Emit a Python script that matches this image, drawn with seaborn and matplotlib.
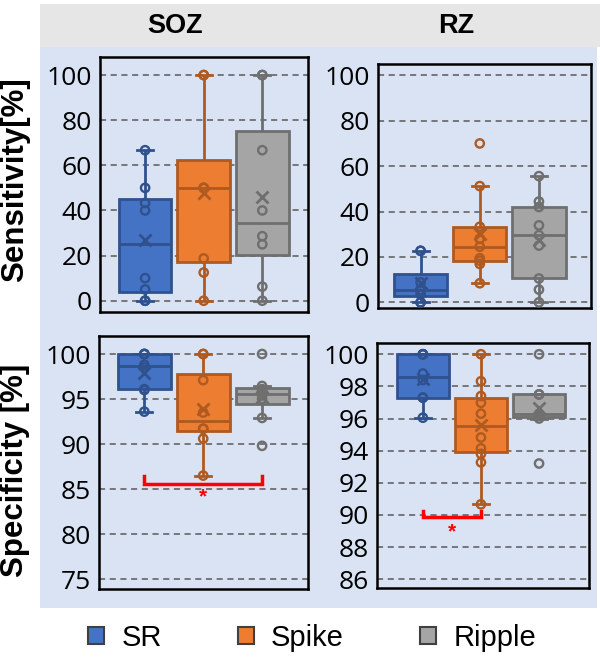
import matplotlib
matplotlib.use("Agg")
import matplotlib.pyplot as plt
from matplotlib.patches import Rectangle, Patch
import seaborn as sns

# %% Data
groups = ["SR", "Spike", "Ripple"]
fill_colors = ["#4472C4", "#ED7D31", "#A5A5A5"]
edge_colors = ["#2F528F", "#AE5A21", "#6F6F6F"]

# Sensitivity [%] - SOZ
sens_soz_sr = [0, 0, 5, 10, 40, 43.3, 50, 66.7]
sens_soz_spike = [0, 12.5, 18.75, 50, 50, 50, 100, 100]
sens_soz_ripple = [0, 6.25, 25, 28.6, 40, 66.7, 100, 100]

# Sensitivity [%] - RZ
sens_rz_sr = [0, 0, 3.7, 5.4, 5.4, 8.8, 22.7, 22.7]
sens_rz_spike = [8.4, 16.9, 18.3, 19.4, 24.5, 28, 33.3, 51.2, 70]
sens_rz_ripple = [0, 5.6, 10.5, 25, 29.6, 33.9, 42, 44.4, 55.6]

# Specificity [%] - SOZ
spec_soz_sr = [93.6, 96.0, 96.1, 98.5, 98.8, 100, 100, 100]
spec_soz_spike = [86.5, 90.6, 91.7, 91.7, 93.5, 97.1, 100, 100]
spec_soz_ripple = [89.8, 92.9, 95.0, 95.4, 95.8, 96.1, 96.45, 100]

# Specificity [%] - RZ
spec_rz_sr = [96.05, 97.3, 97.3, 98.4, 98.8, 100, 100, 100]
spec_rz_spike = [90.66, 93.27, 93.8, 94.14, 94.82, 96.3, 96.98, 97.4, 98.32, 100]
spec_rz_ripple = [93.2, 96.0, 96.15, 96.3, 97.5, 97.5, 100]

col_titles = ["SOZ", "RZ"]
row_labels = ["Sensitivity[%]", "Specificity [%]"]

# significance brackets: (group a, group b, bar height, tip height, star height)
sig_soz = (0, 2, 85.6, 86.4, 84.1)
sig_rz = (0, 1, 89.9, 90.25, 88.95)

# %% Figure
plt.rcParams["font.family"] = ["Liberation Sans", "DejaVu Sans"]
fig = plt.figure(figsize=(6, 6.59), dpi=100)

W, H = 600, 659
fig.patches.append(Rectangle((40 / W, 1 - 47 / H), 560 / W, 43 / H, transform=fig.transFigure,
                             facecolor="#E7E6E6", edgecolor="none", zorder=-10))
fig.patches.append(Rectangle((40 / W, 1 - 608 / H), 557 / W, 561 / H, transform=fig.transFigure,
                             facecolor="#DAE3F3", edgecolor="none", zorder=-10))


def px_axes(x0, y0, x1, y1):
    return fig.add_axes([x0 / W, 1 - y1 / H, (x1 - x0) / W, (y1 - y0) / H])


panels = [
    (px_axes(100, 57, 308, 312), [sens_soz_sr, sens_soz_spike, sens_soz_ripple],
     (-5, 108), range(0, 101, 20), (-0.77, 2.78), None),
    (px_axes(378, 64, 591, 308), [sens_rz_sr, sens_rz_spike, sens_rz_ripple],
     (-2.5, 105), range(0, 101, 20), (-0.72, 2.88), None),
    (px_axes(99, 336, 308, 589), [spec_soz_sr, spec_soz_spike, spec_soz_ripple],
     (73.9, 102), range(75, 101, 5), (-0.77, 2.78), sig_soz),
    (px_axes(377, 343, 589, 588), [spec_rz_sr, spec_rz_spike, spec_rz_ripple],
     (85.45, 100.7), range(86, 101, 2), (-0.79, 2.86), sig_rz),
]

for ax, series, ylim, yticks, xlim, sig in panels:
    ax.set_facecolor("none")
    for g, vals, fc, ec in zip(groups, series, fill_colors, edge_colors):
        sns.boxplot(x=[g] * len(vals), y=vals, order=groups, color=fc, linecolor=ec,
                    width=0.9, linewidth=2, showfliers=False, showmeans=True,
                    capwidths=0.27, saturation=1, ax=ax,
                    meanprops=dict(marker="x", markeredgecolor=ec, markersize=9,
                                   markeredgewidth=2))
        sns.stripplot(x=[g] * len(vals), y=vals, order=groups, jitter=False, size=6,
                      color=ec, zorder=4, ax=ax)

    # hollow data points (inner points + outliers)
    for coll in ax.collections:
        fcs = coll.get_facecolor()
        if len(fcs):
            coll.set_edgecolor(fcs)
            coll.set_facecolor("none")
            coll.set_linewidth(1.7)

    if sig is not None:
        a, b, yb, yt, ys = sig
        ax.plot([a, a, b, b], [yt, yb, yb, yt], color="red", lw=2.5, zorder=5,
                solid_joinstyle="miter")
        ax.text((a + b) / 2, ys, "*", color="red", ha="center", va="center",
                fontsize=15, fontweight="bold")

    ax.set_ylim(*ylim)
    ax.set_xlim(*xlim)
    ax.set_yticks(list(yticks))
    ax.set_xticks([])
    ax.set_xlabel("")
    ax.set_ylabel("")
    ax.yaxis.grid(True, linestyle=(0, (4, 3)), color="#595959", linewidth=1.1)
    ax.set_axisbelow(True)
    ax.tick_params(axis="y", length=0, pad=6, labelsize=19, labelfontfamily="Open Sans")
    for sp in ax.spines.values():
        sp.set_visible(True)
        sp.set_color("black")
        sp.set_linewidth(1.8)

# column titles and row labels
fig.text(175 / W, 1 - 26 / H, col_titles[0], ha="center", va="center",
         fontsize=19.5, fontweight="bold")
fig.text(456 / W, 1 - 26 / H, col_titles[1], ha="center", va="center",
         fontsize=19.5, fontweight="bold")
fig.text(15 / W, 1 - 180 / H, row_labels[0], rotation=90, ha="center", va="center",
         fontsize=22.5, fontweight="bold")
fig.text(15 / W, 1 - 470 / H, row_labels[1], rotation=90, ha="center", va="center",
         fontsize=22.5, fontweight="bold")

handles = [Patch(facecolor=fc, edgecolor="#404040", linewidth=1.5, label=g)
           for g, fc in zip(groups, fill_colors)]
fig.legend(handles=handles, ncol=3, loc="center", bbox_to_anchor=(312 / W, 1 - 638 / H),
           frameon=False, fontsize=21, handlelength=0.55, handleheight=0.55,
           handletextpad=0.6, columnspacing=2.6)

fig.savefig("out.png", dpi=100, facecolor="white")
